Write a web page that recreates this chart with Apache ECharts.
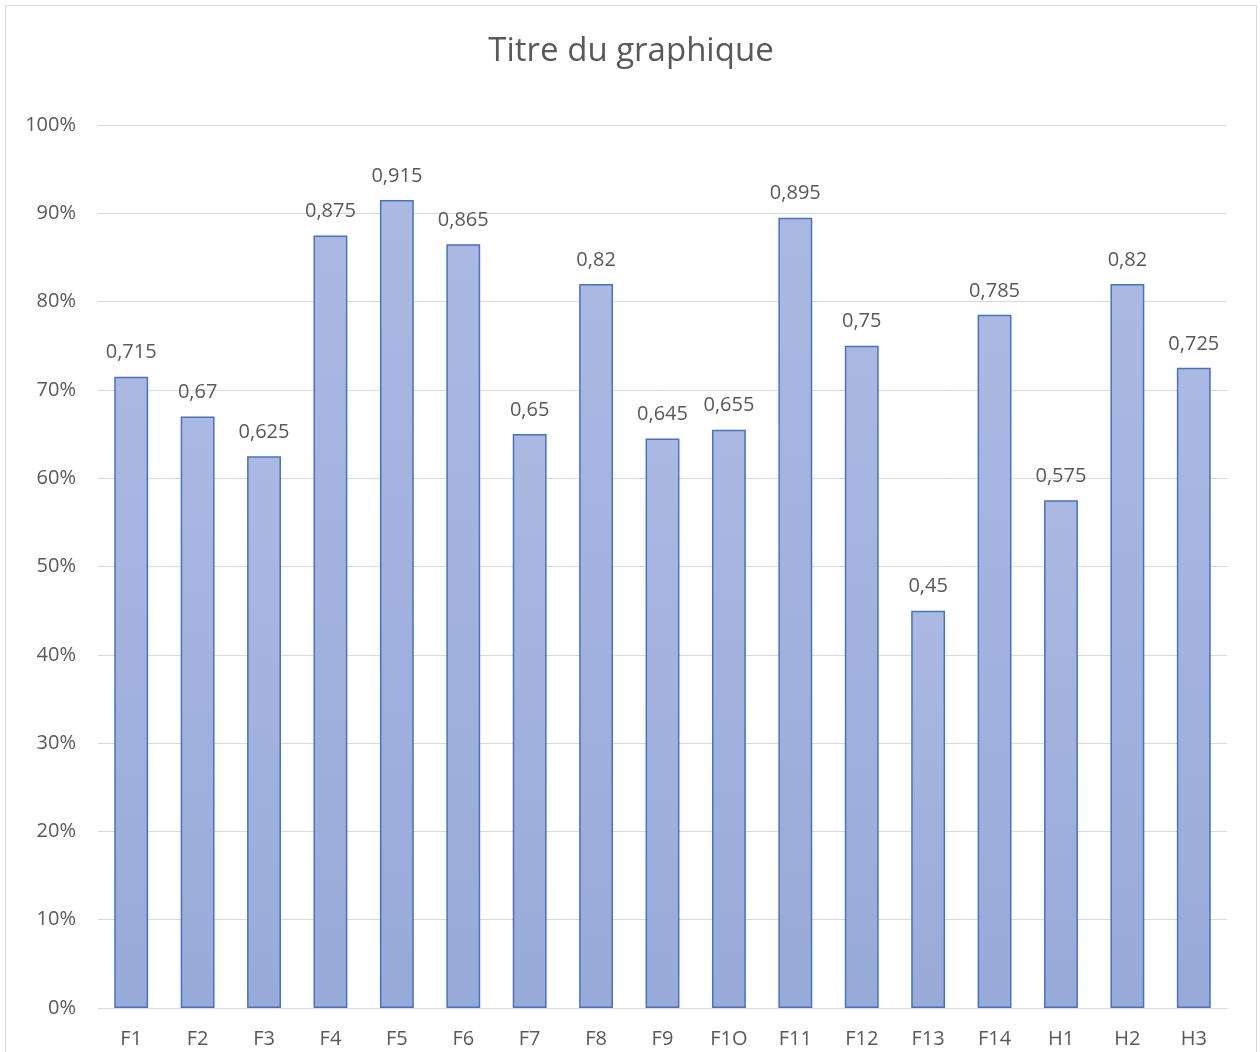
<!DOCTYPE html>
<html>
<head>
<meta charset="utf-8">
<script src="https://cdn.jsdelivr.net/npm/echarts@6/dist/echarts.min.js"></script>
<style>
  html, body { margin: 0; padding: 0; background: #fff; }
  #chart { position: absolute; left: 5px; top: 5px; width: 1252px; height: 1050px; border: 1px solid #d9d9d9; box-sizing: border-box; }
</style>
</head>
<body>
<div id="chart"></div>
<script>
const categories = ["F1", "F2", "F3", "F4", "F5", "F6", "F7", "F8", "F9", "F1O", "F11", "F12", "F13", "F14", "H1", "H2", "H3"];
const values = [0.715, 0.67, 0.625, 0.875, 0.915, 0.865, 0.65, 0.82, 0.645, 0.655, 0.895, 0.75, 0.45, 0.785, 0.575, 0.82, 0.725];
const yTicks = [0, 0.1, 0.2, 0.3, 0.4, 0.5, 0.6, 0.7, 0.8, 0.9, 1];

const font = "'Open Sans', 'Noto Sans', sans-serif";
const chart = echarts.init(document.getElementById("chart"));

const option = {
  animation: false,
  title: {
    text: "Titre du graphique",
    left: "center",
    top: 24,
    textStyle: { fontFamily: font, fontSize: 33, fontWeight: "normal", color: "#595959" }
  },
  grid: { left: 92, right: 29, top: 119, bottom: 46 },
  xAxis: {
    type: "category",
    data: categories,
    axisLine: { lineStyle: { color: "#d9d9d9", width: 1 } },
    axisTick: { show: false },
    axisLabel: { fontFamily: font, fontSize: 20, color: "#595959", margin: 21 }
  },
  yAxis: {
    type: "value",
    min: yTicks[0],
    max: yTicks[yTicks.length - 1],
    interval: 0.1,
    axisLine: { show: false },
    axisTick: { show: false },
    splitLine: { lineStyle: { color: "#d9d9d9", width: 1 } },
    axisLabel: {
      fontFamily: font, fontSize: 20, color: "#595959", margin: 22,
      formatter: v => Math.round(v * 100) + "%"
    }
  },
  series: [{
    type: "bar",
    data: values,
    barWidth: "51%",
    itemStyle: {
      color: new echarts.graphic.LinearGradient(0, 0, 0, 1, [
        { offset: 0, color: "#abb9e2" },
        { offset: 1, color: "#98aad8" }
      ]),
      borderColor: "#4472c4",
      borderWidth: 1.5
    },
    label: {
      show: true,
      position: "top",
      distance: 14,
      fontFamily: font,
      fontSize: 20,
      color: "#595959",
      formatter: p => String(p.value).replace(".", ",")
    }
  }]
};

chart.setOption(option);
</script>
</body>
</html>
